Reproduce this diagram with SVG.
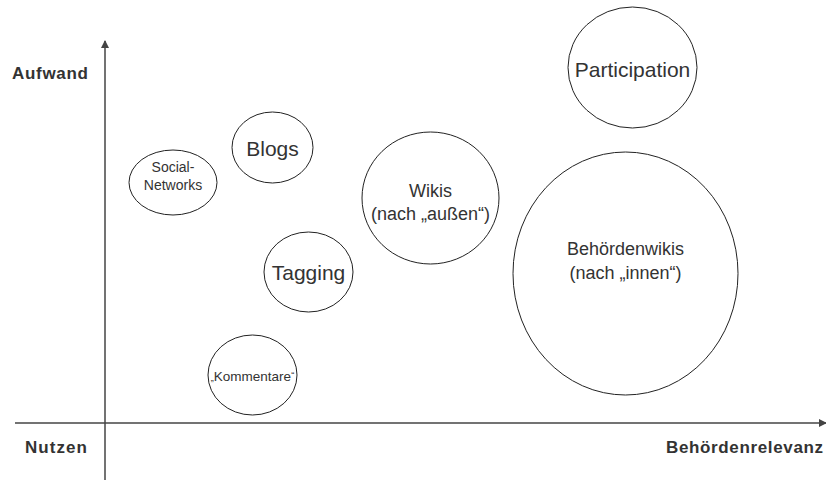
<svg xmlns="http://www.w3.org/2000/svg" width="826" height="483" viewBox="0 0 826 483">
<style>
.n ellipse{fill:#fff;stroke:#222;stroke-width:1}
text{font-family:"Liberation Sans",Arial,sans-serif;fill:#333;text-anchor:middle}
.ax{font-weight:bold;font-size:17px;text-anchor:start}
.axis{stroke:#444;stroke-width:1.5;fill:none}
</style>
<defs>
<marker id="ah" markerWidth="8" markerHeight="8" refX="7" refY="4" orient="auto" markerUnits="userSpaceOnUse">
<path d="M0,0 L8,4 L0,8 Z" fill="#444"/>
</marker>
</defs>
<rect width="826" height="483" fill="#fff"/>
<g id="connectors">
<line class="axis" x1="105" y1="480" x2="105" y2="41" marker-end="url(#ah)"/>
<line class="axis" x1="15" y1="423" x2="826" y2="423" marker-end="url(#ah)"/>
</g>
<g id="labels">
<text class="ax" x="12" y="79" textLength="76">Aufwand</text>
<text class="ax" x="25" y="453" textLength="62">Nutzen</text>
<text class="ax" x="666" y="453" textLength="157">Behördenrelevanz</text>
</g>
<g id="social" class="n"><ellipse cx="173" cy="182.5" rx="44" ry="32.5"/><text x="173" y="172" font-size="14">Social-</text><text x="173" y="190" font-size="14">Networks</text></g>
<g id="blogs" class="n"><ellipse cx="272.5" cy="147.5" rx="40.5" ry="35.5"/><text x="272.5" y="156" font-size="21">Blogs</text></g>
<g id="tagging" class="n"><ellipse cx="308.5" cy="272" rx="44.5" ry="40"/><text x="308.5" y="280" font-size="21">Tagging</text></g>
<g id="kommentare" class="n"><ellipse cx="252.5" cy="375" rx="44.5" ry="40"/><text x="252.5" y="381" font-size="13.5"><tspan font-size="9">„</tspan>Kommentare<tspan font-size="9" dy="-3">“</tspan></text></g>
<g id="wikis" class="n"><ellipse cx="430.5" cy="198" rx="68.5" ry="66"/><text x="430.5" y="197" font-size="18">Wikis</text><text x="430.5" y="220" font-size="18">(nach „außen“)</text></g>
<g id="participation" class="n"><ellipse cx="632.5" cy="67.5" rx="64.5" ry="60.5"/><text x="632.5" y="76.5" font-size="21">Participation</text></g>
<g id="behoerdenwikis" class="n"><ellipse cx="625.5" cy="273.5" rx="112.5" ry="121.5"/><text x="625.5" y="255" font-size="18">Behördenwikis</text><text x="625.5" y="279" font-size="18">(nach „innen“)</text></g>
</svg>
